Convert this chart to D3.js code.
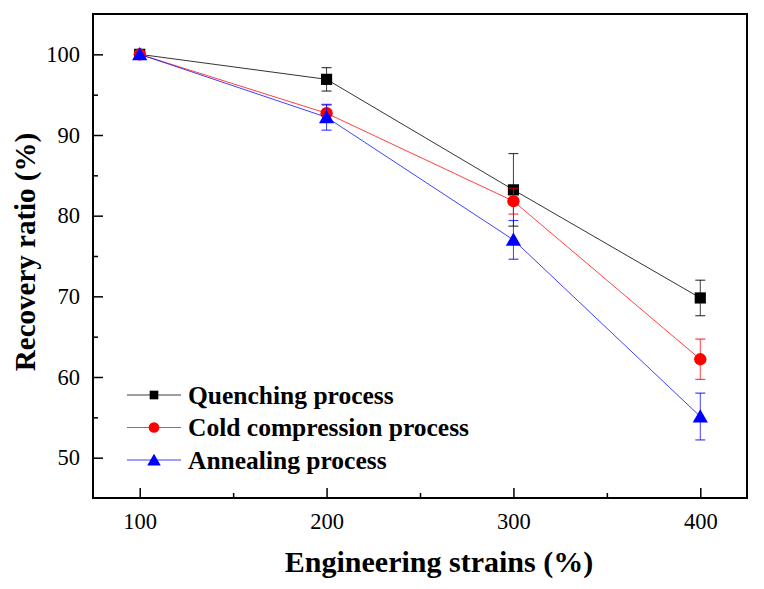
<!DOCTYPE html>
<html><head><meta charset="utf-8">
<script src="https://cdn.jsdelivr.net/npm/d3@7"></script>
<style>body{margin:0;background:#fff}svg{display:block}text{font-family:"Liberation Serif","Times New Roman",serif}</style>
</head><body><svg id="c" width="764" height="589"></svg>
<script>
const strains = [100, 200, 300, 400];
const seriesNames = ["Quenching process", "Cold compression process", "Annealing process"];
const quenching = [100, 96.9, 83.2, 69.8];
const quenchingErr = [0, 1.45, 4.5, 2.2];
const cold = [100, 92.7, 81.8, 62.2];
const coldErr = [0, 1.0, 1.6, 2.5];
const annealing = [100, 92.2, 77.0, 55.1];
const annealingErr = [0, 1.6, 2.4, 2.9];
const xTicks = [100, 200, 300, 400];
const yTicks = [50, 60, 70, 80, 90, 100];
const colors = ["#000000", "#ff0000", "#0000ff"];
const symbols = [d3.symbolSquare, d3.symbolCircle, d3.symbolTriangle];

const svg = d3.select("#c");
const L = 93, R = 747, T = 14, B = 498;
const x = d3.scaleLinear().domain([75, 425]).range([L, R]);
const y = d3.scaleLinear().domain([45, 105]).range([B, T]);

const series = [
  {name: seriesNames[0], v: quenching, e: quenchingErr},
  {name: seriesNames[1], v: cold, e: coldErr},
  {name: seriesNames[2], v: annealing, e: annealingErr}
];

// axes
const xAxis = svg.append("g").attr("transform", `translate(0,${B})`)
  .call(d3.axisBottom(x).tickValues(xTicks).tickSize(-10).tickPadding(15).tickFormat(d3.format("d")));
const xMinor = svg.append("g").attr("transform", `translate(0,${B})`)
  .call(d3.axisBottom(x).tickValues([150, 250, 350]).tickSize(-5).tickFormat(""));
const yAxis = svg.append("g").attr("transform", `translate(${L},0)`)
  .call(d3.axisLeft(y).tickValues(yTicks).tickSize(-10).tickPadding(13).tickFormat(d3.format("d")));
const yMinor = svg.append("g").attr("transform", `translate(${L},0)`)
  .call(d3.axisLeft(y).tickValues([55, 65, 75, 85, 95]).tickSize(-5).tickFormat(""));
[xAxis, xMinor, yAxis, yMinor].forEach(g => {
  g.attr("font-family", null).attr("font-size", null);
  g.select(".domain").remove();
  g.selectAll(".tick line").attr("stroke", "#000").attr("stroke-width", 1.5);
  g.selectAll("text").attr("font-size", 22.5).attr("fill", "#000");
});

svg.append("rect").attr("x", L).attr("y", T).attr("width", R - L).attr("height", B - T)
  .attr("fill", "none").attr("stroke", "#000").attr("stroke-width", 2);

// data
const line = d3.line().x((d, i) => x(strains[i])).y(d => y(d));
const sizes = [125, 120, 100];
series.forEach((s, k) => {
  const g = svg.append("g");
  g.append("path").attr("d", line(s.v)).attr("fill", "none").attr("stroke", colors[k])
    .attr("stroke-width", 1).attr("opacity", k === 0 ? 0.8 : 0.75);
  s.v.forEach((v, i) => {
    if (s.e[i] > 0) {
      const cx = x(strains[i]);
      const y1 = y(v + s.e[i]), y2 = y(v - s.e[i]);
      g.append("line").attr("x1", cx).attr("x2", cx).attr("y1", y1).attr("y2", y2).attr("stroke", colors[k]).attr("stroke-width", 1).attr("opacity", 0.75);
      [y1, y2].forEach(yy => g.append("line").attr("x1", cx - 5).attr("x2", cx + 5).attr("y1", yy).attr("y2", yy).attr("stroke", colors[k]).attr("stroke-width", 1.2).attr("opacity", 0.75));
    }
  });
  g.selectAll("path.m").data(s.v).join("path").attr("class", "m")
    .attr("transform", (d, i) => `translate(${x(strains[i])},${y(d) + (k === 2 ? 1.5 : 0)})`)
    .attr("d", d3.symbol().type(symbols[k]).size(sizes[k]))
    .attr("fill", colors[k]);
});

// legend
const legY = [395, 427.5, 460];
series.forEach((s, k) => {
  const g = svg.append("g").attr("transform", `translate(0,${legY[k]})`);
  g.append("line").attr("x1", 127).attr("x2", 181).attr("stroke", colors[k]).attr("stroke-width", 1).attr("opacity", 0.75);
  g.append("path").attr("transform", `translate(154,${k === 2 ? 1.5 : 0})`)
    .attr("d", d3.symbol().type(symbols[k]).size(k === 0 ? 75 : k === 1 ? 90 : 80)).attr("fill", colors[k]);
  g.append("text").attr("x", 188).attr("y", 8.5).attr("font-size", 25.5).attr("font-weight", "bold").text(s.name);
});

// axis titles
svg.append("text").attr("x", 439).attr("y", 572).attr("text-anchor", "middle")
  .attr("font-size", 30).attr("font-weight", "bold").text("Engineering strains (%)");
svg.append("text").attr("transform", "translate(35,252) rotate(-90)").attr("text-anchor", "middle")
  .attr("font-size", 29).attr("font-weight", "bold").text("Recovery ratio (%)");
</script></body></html>
